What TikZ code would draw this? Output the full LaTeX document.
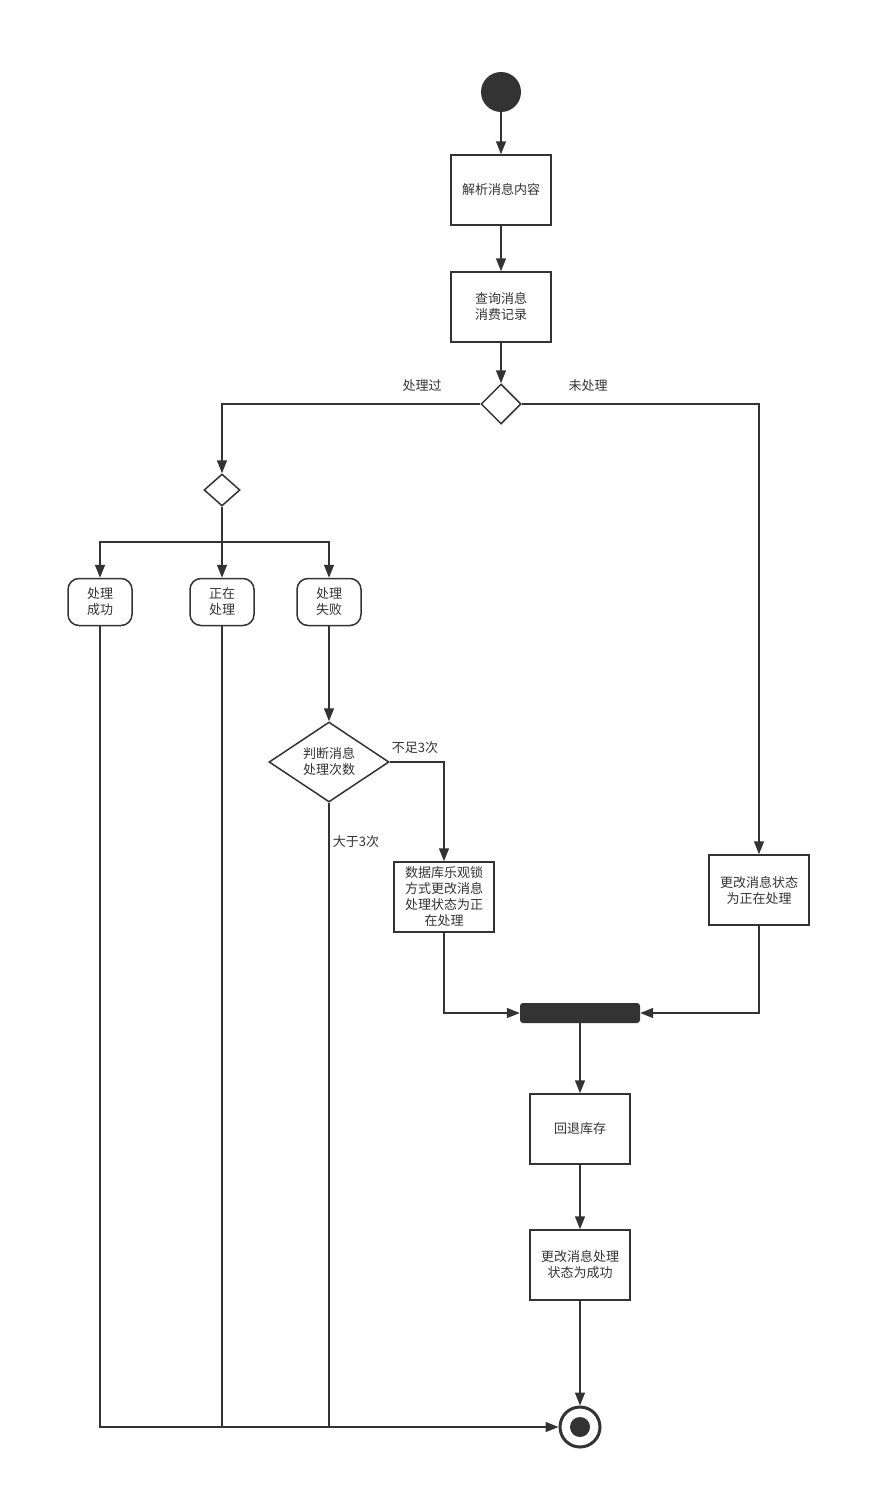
\documentclass[tikz,border=0pt]{standalone}
\usepackage{fontspec}
\setmainfont{Noto Sans CJK SC}
\usetikzlibrary{shapes.geometric,arrows.meta}
\definecolor{ink}{HTML}{333333}

\begin{document}
\begin{tikzpicture}[x=1pt,y=-1pt,>={Triangle[length=13pt,width=10pt]},
    every node/.style={font=\fontsize{13}{16}\selectfont,text=ink},
    act/.style={draw=ink,line width=1.5pt,minimum width=100pt,minimum height=70pt,align=center,inner sep=2pt},
    state/.style={draw=ink,line width=1.5pt,rounded corners=11pt,minimum width=64pt,minimum height=47pt,align=center,inner sep=2pt},
    choice/.style={draw=ink,line width=1.5pt,diamond,aspect=1.5,inner sep=0pt,align=center},
    flow/.style={draw=ink,line width=1.5pt,->},
    lbl/.style={inner sep=1pt}]
    \useasboundingbox (0,0) rectangle (870,1509);
    \node[circle,fill=ink,minimum size=40pt,inner sep=0pt] (start) at (501,92) {};
    \node[act] (parse) at (501,190) {解析消息内容};
    \node[act] (query) at (501,307) {查询消息\\消费记录};
    \node[choice,minimum width=40pt,minimum height=40pt] (d1) at (501,404) {};
    \node[lbl] (seen) at (422,386) {处理过};
    \node[lbl] (fresh) at (588,386) {未处理};
    \node[choice,minimum width=36pt,minimum height=32pt] (d2) at (222,490) {};
    \coordinate (split) at (222,542);
    \node[state] (ok) at (100,602) {处理\\成功};
    \node[state] (doing) at (222,602) {正在\\处理};
    \node[state] (fail) at (329,602) {处理\\失败};
    \node[choice,minimum width=120pt,minimum height=80pt] (d3) at (329,762) {判断消息\\处理次数};
    \node[lbl] (less) at (415,748) {不足3次};
    \node[lbl] (more) at (356,842) {大于3次};
    \node[act] (lock) at (444,897) {数据库乐观锁\\方式更改消息\\处理状态为正\\在处理};
    \node[act] (busy) at (759,890) {更改消息状态\\为正在处理};
    \node[fill=ink,rounded corners=3pt,minimum width=120pt,minimum height=20pt,inner sep=0pt] (bar) at (580,1013) {};
    \node[act] (back) at (580,1129) {回退库存};
    \node[act] (done) at (580,1265) {更改消息处理\\状态为成功};
    \node[circle,draw=ink,line width=3pt,minimum size=40pt,inner sep=0pt] (stop) at (580,1427) {};
    \fill[ink] (stop) circle (10pt);

    \draw[flow] (start) -- (parse);
    \draw[flow] (parse) -- (query);
    \draw[flow] (query) -- (d1);
    \draw[flow] (d1.west) -| (d2.north);
    \draw[flow] (d1.east) -| (busy.north);
    \draw[draw=ink,line width=1.5pt] (d2.south) -- (split);
    \draw[flow] (split) -| (ok.north);
    \draw[flow] (split) -- (doing.north);
    \draw[flow] (split) -| (fail.north);
    \draw[flow] (fail.south) -- (d3.north);
    \draw[flow] (d3.east) -| (lock.north);
    \draw[flow] (lock.south) |- (bar.west);
    \draw[flow] (busy.south) |- (bar.east);
    \draw[flow] (bar.south) -- (back.north);
    \draw[flow] (back.south) -- (done.north);
    \draw[flow] (done.south) -- (stop.north);
    \draw[flow] (ok.south) |- (stop.west);
    \draw[draw=ink,line width=1.5pt] (doing.south) -- (doing.south |- stop.west);
    \draw[draw=ink,line width=1.5pt] (d3.south) -- (d3.south |- stop.west);
\end{tikzpicture}
\end{document}
